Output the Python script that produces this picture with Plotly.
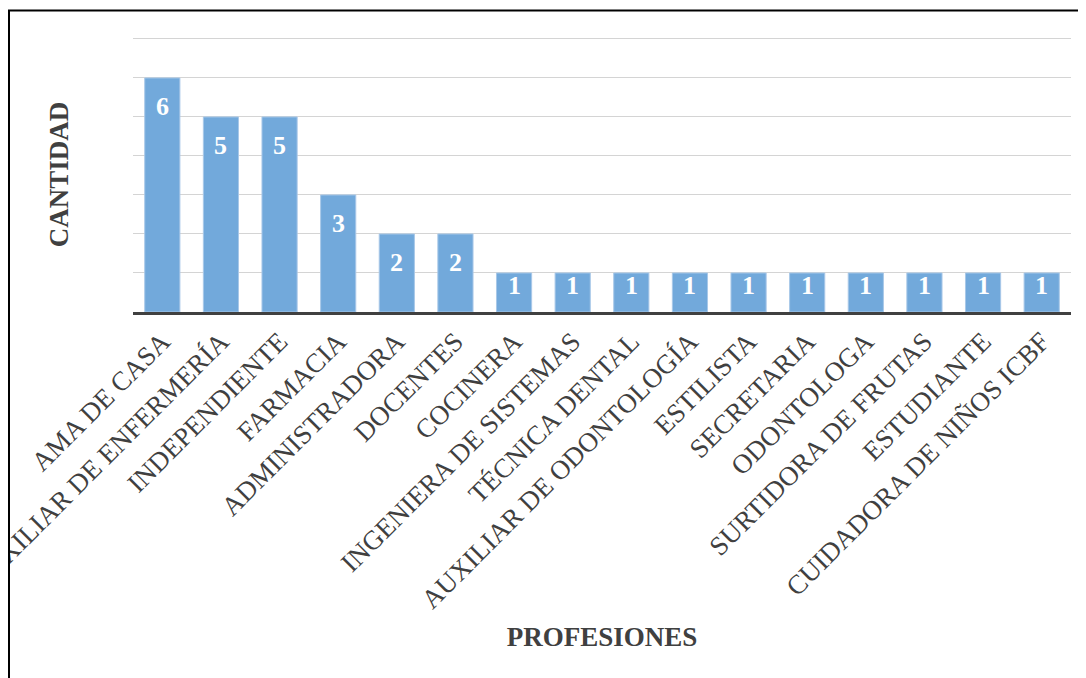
import plotly.graph_objects as go

profesiones = [
    "AMA DE CASA", "AUXILIAR DE ENFERMERÍA", "INDEPENDIENTE", "FARMACIA",
    "ADMINISTRADORA", "DOCENTES", "COCINERA", "INGENIERA DE SISTEMAS",
    "TÉCNICA DENTAL", "AUXILIAR DE ODONTOLOGÍA", "ESTILISTA", "SECRETARIA",
    "ODONTOLOGA", "SURTIDORA DE FRUTAS", "ESTUDIANTE", "CUIDADORA DE NIÑOS ICBF",
]
cantidad = [6, 5, 5, 3, 2, 2, 1, 1, 1, 1, 1, 1, 1, 1, 1, 1]

SERIF = "Liberation Serif, Times New Roman, serif"
GRAY = "#404040"

fig = go.Figure()
fig.add_trace(go.Bar(
    x=profesiones, y=cantidad,
    marker=dict(color="#72a9db", line=dict(color="#a8c8e8", width=1)),
    hoverinfo="x+y",
))

annotations = []
for p, v in zip(profesiones, cantidad):
    annotations.append(dict(
        x=p, y=v, xref="x", yref="y", text=str(v), showarrow=False,
        yanchor="middle", yshift=-29 if v > 1 else -13,
        font=dict(family=SERIF, size=26, color="white", weight="bold"),
    ))

# page has an 8px body margin, so the figure is offset by (8, 8)
fig.update_layout(
    width=1078, height=670,
    margin=dict(l=125, r=15, t=29, b=366),
    paper_bgcolor="white", plot_bgcolor="white",
    bargap=0.4,
    showlegend=False,
    annotations=annotations,
    xaxis=dict(
        tickangle=-45,
        tickfont=dict(family=SERIF, size=27, color=GRAY),
        showline=True, linecolor=GRAY, linewidth=3,
        ticks="", showgrid=False,
        title=dict(text="PROFESIONES", standoff=14,
                   font=dict(family=SERIF, size=27, color=GRAY, weight="bold")),
        automargin=False,
    ),
    yaxis=dict(
        range=[0, 7.05], dtick=1, showticklabels=False,
        showgrid=True, gridcolor="#d4d4d4", gridwidth=1,
        zeroline=False,
        title=dict(text="CANTIDAD", standoff=55,
                   font=dict(family=SERIF, size=27, color=GRAY, weight="bold")),
        automargin=False,
    ),
    shapes=[dict(
        type="rect", xref="paper", yref="paper",
        x0=-0.1322, x1=1.05, y0=-1.5, y1=1.0964,
        line=dict(color="black", width=2), layer="above",
    )],
)

fig.write_html("out.html")
